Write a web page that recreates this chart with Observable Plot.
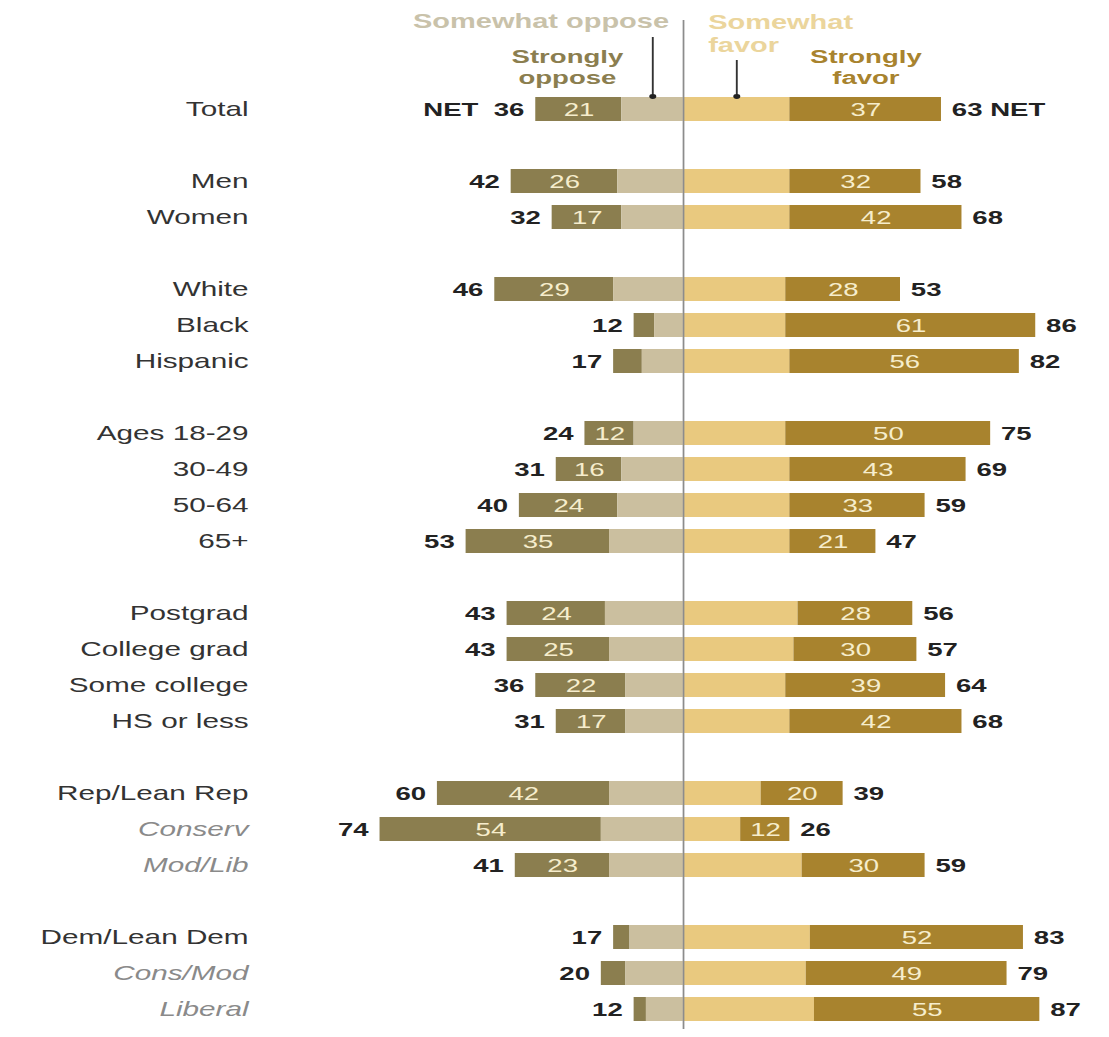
<!DOCTYPE html>
<html><head><meta charset="utf-8">
<script src="https://cdn.jsdelivr.net/npm/d3@7"></script>
<script src="https://cdn.jsdelivr.net/npm/@observablehq/plot@0.6"></script>
<style>html,body{margin:0;padding:0;background:#fff;overflow:hidden} #chart svg{display:block}</style>
</head><body><div id="chart"></div>
<script>
// ---- data ----
const groupRows = [
  ["Total"],
  ["Men", "Women"],
  ["White", "Black", "Hispanic"],
  ["Ages 18-29", "30-49", "50-64", "65+"],
  ["Postgrad", "College grad", "Some college", "HS or less"],
  ["Rep/Lean Rep", "Conserv", "Mod/Lib"],
  ["Dem/Lean Dem", "Cons/Mod", "Liberal"]
];
const categories = groupRows.flat();
const italicCategories = ["Conserv", "Mod/Lib", "Cons/Mod", "Liberal"];
const opposeNet      = [36, 42, 32, 46, 12, 17, 24, 31, 40, 53, 43, 43, 36, 31, 60, 74, 41, 17, 20, 12];
const opposeStrongly = [21, 26, 17, 29,  5,  7, 12, 16, 24, 35, 24, 25, 22, 17, 42, 54, 23,  4,  6,  3];
const favorNet       = [63, 58, 68, 53, 86, 82, 75, 69, 59, 47, 56, 57, 64, 68, 39, 26, 59, 83, 79, 87];
const favorStrongly  = [37, 32, 42, 28, 61, 56, 50, 43, 33, 21, 28, 30, 39, 42, 20, 12, 30, 52, 49, 55];
const parts = ["Strongly oppose", "Somewhat oppose", "Somewhat favor", "Strongly favor"];
const partColors = ["#8b7e4f", "#cbbf9f", "#e9c97f", "#a8832e"];
const netRow = "Total";

// ---- derived tables ----
const yDomain = [];
groupRows.forEach((g, i) => { if (i > 0) yDomain.push(`gap${i}`); yDomain.push(...g); });
const rows = categories.map((c, i) => ({
  label: c, on: opposeNet[i], os: opposeStrongly[i], fn: favorNet[i], fs: favorStrongly[i]
}));
const segs = rows.flatMap(r => [
  {label: r.label, part: parts[0], x1: -r.on, x2: -(r.on - r.os), v: r.os},
  {label: r.label, part: parts[1], x1: -(r.on - r.os), x2: 0, v: r.on - r.os},
  {label: r.label, part: parts[2], x1: 0, x2: r.fn - r.fs, v: r.fn - r.fs},
  {label: r.label, part: parts[3], x1: r.fn - r.fs, x2: r.fn, v: r.fs}
]);
const totalRow = rows.filter(r => r.label === netRow);

const W = 765, H = 1037, OUTW = 1109;
const font = "'Liberation Sans', Arial, sans-serif";

const chart = Plot.plot({
  width: W, height: H,
  marginLeft: 177, marginRight: 0, marginTop: 89, marginBottom: 8,
  x: {domain: [-104, 104], axis: null},
  y: {domain: yDomain, axis: null, paddingInner: 0.34, paddingOuter: 0.1},
  color: {domain: parts, range: partColors},
  style: {fontFamily: font, background: "white", color: "#222"},
  marks: [
    Plot.barX(segs, {x1: "x1", x2: "x2", y: "label", fill: "part"}),
    Plot.ruleX([0], {stroke: "#8c8c8c", strokeWidth: 1.2, insetTop: -69}),
    // category labels
    Plot.text(rows.filter(r => !italicCategories.includes(r.label)), {
      y: "label", text: "label", frameAnchor: "left", textAnchor: "end", dx: -6,
      fontSize: 20.5, fill: "#333"
    }),
    Plot.text(rows.filter(r => italicCategories.includes(r.label)), {
      y: "label", text: "label", frameAnchor: "left", textAnchor: "end", dx: -6,
      fontSize: 20.5, fill: "#8a8a8a", fontStyle: "italic"
    }),
    // net values
    Plot.text(rows, {
      x: d => -d.on, y: "label",
      text: d => d.label === netRow ? `NET\u00a0\u00a0${d.on}` : String(d.on),
      textAnchor: "end", dx: -8, fontSize: 19, fontWeight: "bold", fill: "#222"
    }),
    Plot.text(rows, {
      x: d => d.fn, y: "label",
      text: d => d.label === netRow ? `${d.fn}\u00a0NET` : String(d.fn),
      textAnchor: "start", dx: 7, fontSize: 19, fontWeight: "bold", fill: "#222"
    }),
    // values inside strongly segments
    Plot.text(segs.filter(s => (s.part === parts[0] || s.part === parts[3]) && s.v >= 10), {
      x: d => (d.x1 + d.x2) / 2, y: "label", text: d => String(d.v),
      fontSize: 19, fill: "#f6edcc"
    }),
    // header legend annotations tied to the Total row
    Plot.text(totalRow, {
      x: 0, y: "label", text: () => "Somewhat oppose", textAnchor: "end", dx: -10, dy: -88,
      fontSize: 20, fontWeight: "bold", fill: "#c9c2aa"
    }),
    Plot.text(totalRow, {
      x: 0, y: "label", text: () => "Somewhat\nfavor", textAnchor: "start", dx: 17, dy: -76.5,
      lineHeight: 1.15, fontSize: 20, fontWeight: "bold", fill: "#ebd59c"
    }),
    Plot.text(totalRow, {
      x: d => -(d.on + (d.on - d.os)) / 2, y: "label", text: () => "Strongly\noppose", dx: -8, dy: -42.5,
      lineHeight: 1.1, fontSize: 19, fontWeight: "bold", fill: partColors[0]
    }),
    Plot.text(totalRow, {
      x: d => (d.fn + (d.fn - d.fs)) / 2, y: "label", text: () => "Strongly\nfavor", dy: -42.5,
      lineHeight: 1.1, fontSize: 19, fontWeight: "bold", fill: partColors[3]
    }),
    // leader lines
    Plot.tickX(totalRow, {x: d => -(d.on - d.os) / 2, y: "label", insetTop: -60, insetBottom: 25, stroke: "#333", strokeWidth: 1.3}),
    Plot.tickX(totalRow, {x: d => (d.fn - d.fs) / 2, y: "label", insetTop: -37, insetBottom: 25, stroke: "#333", strokeWidth: 1.3}),
    Plot.dot(totalRow, {x: d => -(d.on - d.os) / 2, y: "label", dy: -13, r: 2.4, fill: "#222"}),
    Plot.dot(totalRow, {x: d => (d.fn - d.fs) / 2, y: "label", dy: -13, r: 2.4, fill: "#222"})
  ]
});
// the reference picture is horizontally stretched; reproduce by scaling the viewBox
chart.setAttribute("width", OUTW);
chart.setAttribute("height", H);
chart.setAttribute("preserveAspectRatio", "none");
chart.style.width = OUTW + "px";
chart.style.height = H + "px";
chart.style.maxWidth = "none";
document.getElementById("chart").append(chart);
</script>
</body></html>
